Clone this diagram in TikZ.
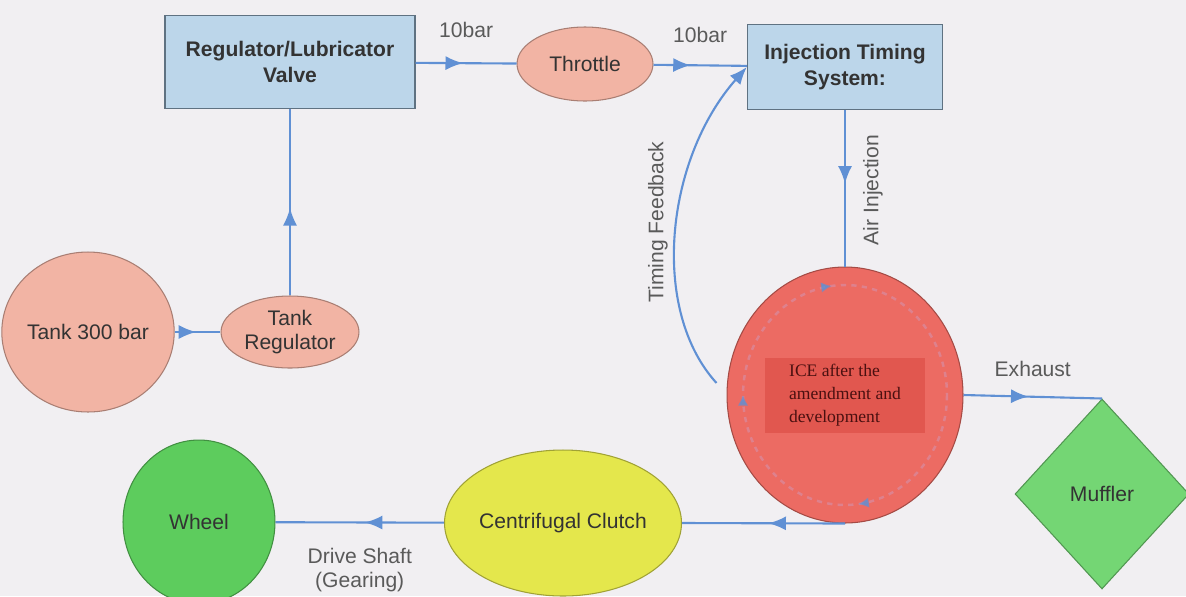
\documentclass[tikz,border=0pt]{standalone}
\usepackage{fontspec}
\setmainfont{Liberation Sans}
\newfontfamily\icefont{Liberation Serif}
\usetikzlibrary{calc,shapes.geometric,arrows.meta,decorations.markings}
\definecolor{pagebg}{HTML}{F1EFF2}
\definecolor{boxblue}{HTML}{BCD6EA}
\definecolor{boxedge}{HTML}{5F7282}
\definecolor{flowblue}{HTML}{6090D4}
\definecolor{tankpink}{HTML}{F2B4A4}
\definecolor{icered}{HTML}{EC6B63}
\definecolor{icedark}{HTML}{E1574F}
\definecolor{icetext}{HTML}{4A1010}
\definecolor{ringc}{HTML}{D98BA0}
\definecolor{wheelgreen}{HTML}{5DCC5D}
\definecolor{mufflergreen}{HTML}{74D674}
\definecolor{clutchyellow}{HTML}{E4E74C}
\definecolor{lblgray}{HTML}{5A5A5A}
\definecolor{txtdark}{HTML}{333333}

\begin{document}
\begin{tikzpicture}[x=0.02cm, y=-0.02cm,
    every node/.style={font=\fontsize{12}{14}\selectfont, text=txtdark},
    box/.style={rectangle, draw=boxedge, fill=boxblue, line width=0.8pt, align=center, inner sep=0pt, font=\bfseries\fontsize{12}{14.5}\selectfont},
    blob/.style={ellipse, draw=#1!70!black, fill=#1, line width=0.6pt, align=center, inner sep=0pt},
    flow/.style={draw=flowblue, line width=1.2pt, postaction={decorate},
        decoration={markings, mark=at position #1 with {\arrow{Latex[length=10pt,width=8pt]}}}},
    flow/.default=0.47,
    lbl/.style={text=lblgray, inner sep=1pt, align=center}]
    \useasboundingbox (0,0) rectangle (1186,596);
    \fill[pagebg] (0,0) rectangle (1186,596);

    \node[box, minimum width=5cm, minimum height=1.86cm] (valve) at (290,62) {Regulator/Lubricator\\Valve};
    \node[blob=tankpink, minimum width=2.72cm, minimum height=1.48cm] (throttle) at (585,64) {Throttle};
    \node[box, minimum width=3.9cm, minimum height=1.7cm] (its) at (845,67) {Injection Timing\\System:};
    \node[blob=tankpink, minimum width=3.04cm, minimum height=3.2cm] (tank) at (88,332) {Tank 300 bar};
    \node[blob=tankpink, minimum width=2.76cm, minimum height=1.44cm] (tankreg) at (290,332) {Tank\\Regulator};
    \node[blob=icered, minimum width=4.72cm, minimum height=5.12cm] (ice) at (845,395) {};
    \draw[ringc, dashed, line width=1.4pt, opacity=0.7, postaction={decorate},
        decoration={markings, mark=at position 0.23 with {\arrow[flowblue]{Latex[length=6pt,width=6pt]}},
            mark=at position 0.5 with {\arrow[flowblue]{Latex[length=6pt,width=6pt]}},
            mark=at position 0.73 with {\arrow[flowblue]{Latex[length=6pt,width=6pt]}}}]
        (ice.center) ellipse[x radius=102, y radius=110];
    \node[fill=icedark, minimum width=3.2cm, minimum height=1.5cm, align=left, text=icetext,
        font=\icefont\fontsize{10}{13}\selectfont] (icelabel) at (845,395) {ICE after the\\amendment and\\development};
    \node[diamond, draw=mufflergreen!70!black, fill=mufflergreen, line width=0.6pt, inner sep=0pt,
        minimum width=3.48cm, minimum height=3.8cm] (muffler) at (1102,494) {Muffler};
    \node[blob=wheelgreen, minimum width=3.04cm, minimum height=3.28cm] (wheel) at (199,522) {Wheel};
    \node[blob=clutchyellow, minimum width=4.66cm, minimum height=2.92cm] (clutch) at (563,523) {Centrifugal Clutch};

    \draw[flow] (tank) -- (tankreg);
    \draw[flow] (tankreg) -- (valve);
    \draw[flow] (valve) -- node[lbl, above=0.45cm] (barone) {10bar} (throttle);
    \draw[flow=0.4] (throttle) -- node[lbl, above=0.4cm] (bartwo) {10bar} (its);
    \draw[flow] (its) -- (ice);
    \node[lbl, rotate=90] (airlbl) at (873,190) {Air Injection};
    \draw[draw=flowblue, line width=1.2pt, -{Latex[length=10pt,width=8pt]}]
        ($(ice.west)+(-10,-12)$) .. controls (650,310) and (665,160) .. (its.west);
    \node[lbl, rotate=90] (fblbl) at (658,222) {Timing Feedback};
    \draw[flow] (ice.east) -- node[lbl, above=0.34cm] (exhlbl) {Exhaust} (muffler.north);
    \draw[flow] (ice.south) -- (clutch.east);
    \draw[flow] (clutch) -- node[lbl, below=0.45cm] (shaftlbl) {Drive Shaft\\(Gearing)} (wheel);
\end{tikzpicture}
\end{document}
